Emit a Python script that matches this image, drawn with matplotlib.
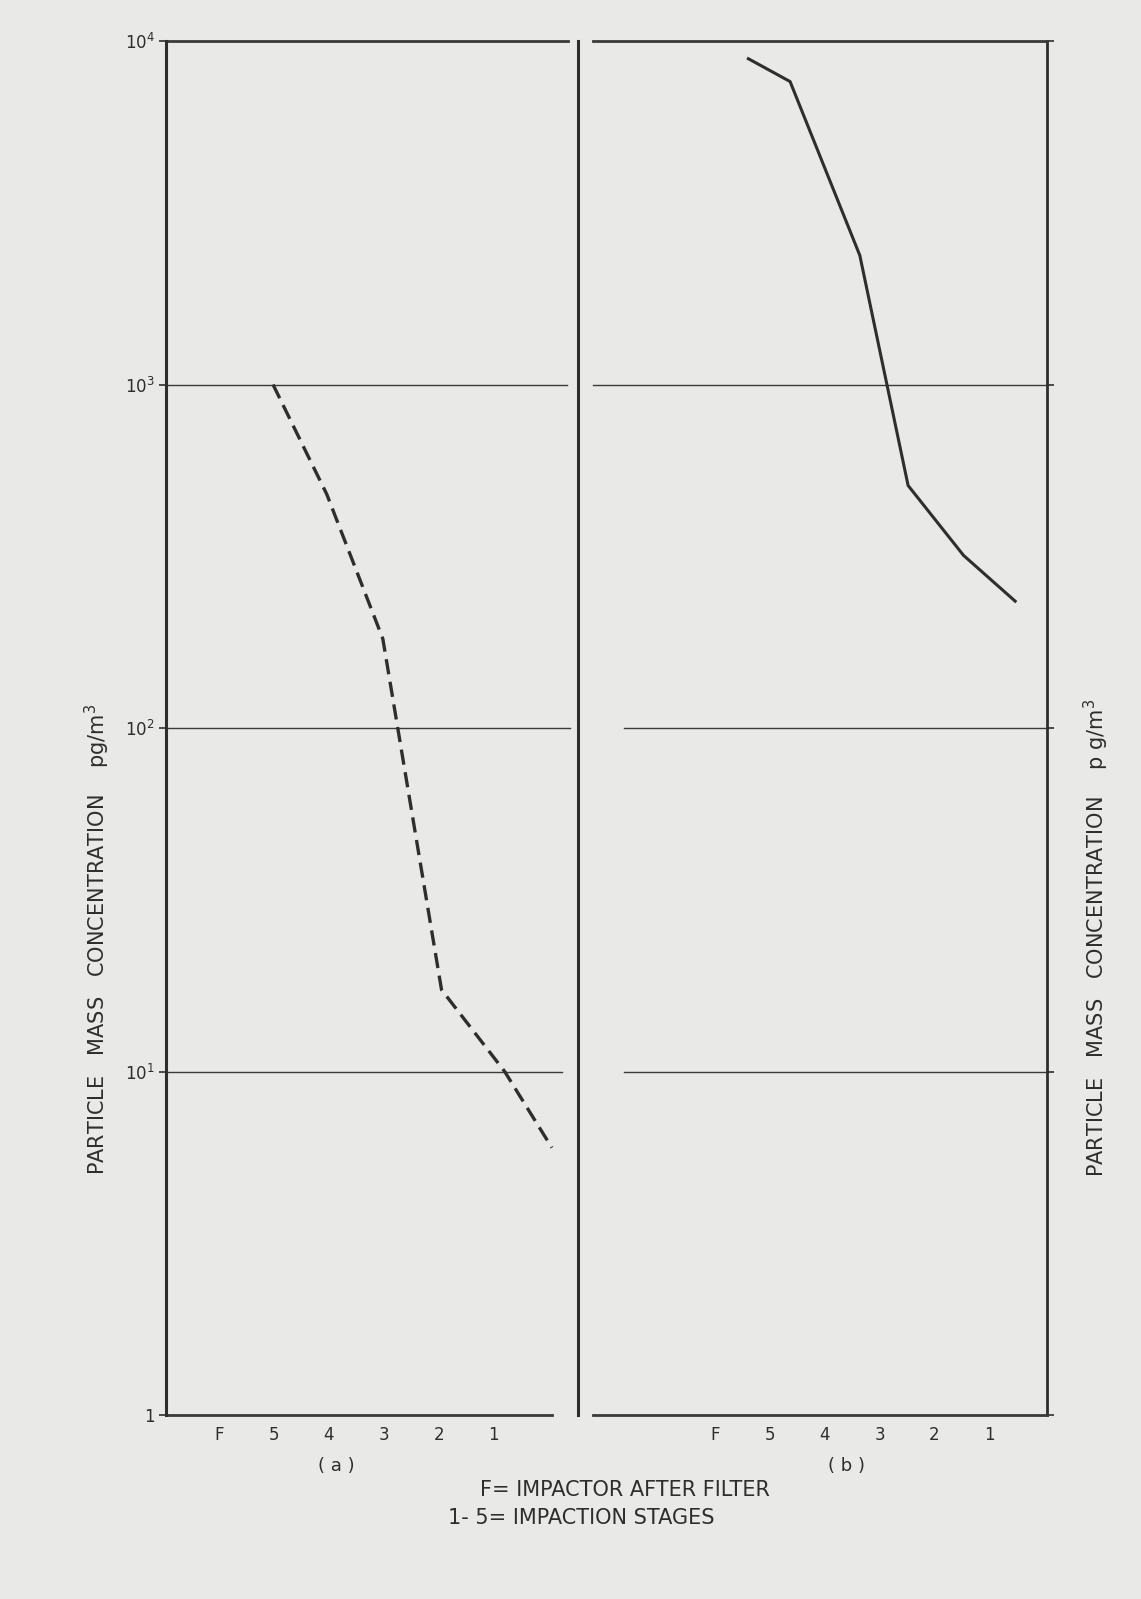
import matplotlib
matplotlib.use('Agg')
import matplotlib.pyplot as plt
from matplotlib.ticker import NullLocator

# ---------------- data ----------------
stage_labels = ['F', '5', '4', '3', '2', '1']
stage_pos = [0, 1, 2, 3, 4, 5]

# panel (a): dashed curve (x in stage units, F=0 ... 1=5)
a_x = [0.98, 1.96, 2.98, 4.05, 5.2, 6.06]
a_y = [1000, 479, 182, 17.3, 10.0, 6.0]

# panel (b): solid curve
b_x = [0.61, 1.37, 2.64, 3.52, 4.53, 5.47]
b_y = [8880, 7620, 2377, 508, 318, 234]

decades = [1, 10, 100, 1000, 10000]
decade_labels = ['1', '$10^1$', '$10^2$', '$10^3$', '$10^4$']

# ---------------- style ----------------
bg = '#e9e9e7'
ink = '#2e2e2e'
grid_ink = '#3a3a3a'
plt.rcParams['font.family'] = ['DejaVu Sans']
plt.rcParams['lines.scale_dashes'] = False
plt.rcParams['mathtext.fontset'] = 'dejavusans'

W, H = 1141, 1599
fig = plt.figure(figsize=(W / 100, H / 100), dpi=100, facecolor=bg)

top_px, bot_px = 41, 1415
axh = (bot_px - top_px) / H
axb = 1 - bot_px / H

# ---------------- panel (a) ----------------
axA = fig.add_axes([166 / W, axb, (578 - 166) / W, axh])
axA.set_facecolor('none')
axA.set_yscale('log')
axA.set_ylim(1, 1e4)
axA.set_xlim(-0.969, 6.536)
for s in ['top', 'bottom']:
    axA.spines[s].set_visible(False)
axA.spines['left'].set_linewidth(2.2)
axA.spines['right'].set_linewidth(2.2)
axA.spines['left'].set_color(ink)
axA.spines['right'].set_color(ink)
# horizontal decade lines (end before divider)
ends_a = {1: 0.937, 10: 0.961, 100: 0.98, 1000: 0.974, 10000: 0.976}
for d in decades:
    lw = 2.0 if d in (1, 10000) else 1.0
    axA.axhline(d, xmin=0, xmax=ends_a[d], color=grid_ink, lw=lw, clip_on=False)
axA.plot(a_x, a_y, color=ink, lw=2.4, dashes=(11, 5.5), solid_capstyle='butt',
         dash_capstyle='butt')
axA.set_yticks(decades, decade_labels)
axA.yaxis.set_minor_locator(NullLocator())
axA.tick_params(axis='y', direction='out', length=5, width=1.2, labelsize=12,
                pad=3, colors=ink)
axA.set_xticks(stage_pos, stage_labels)
axA.tick_params(axis='x', length=0, pad=8, labelsize=12, colors=ink)

# ---------------- panel (b) ----------------
axB = fig.add_axes([593 / W, axb, (1047 - 593) / W, axh])
axB.set_facecolor('none')
axB.set_yscale('log')
axB.set_ylim(1, 1e4)
axB.set_xlim(-2.22, 6.05)
axB.spines['left'].set_visible(False)
for s in ['top', 'bottom']:
    axB.spines[s].set_linewidth(2.0)
    axB.spines[s].set_color(grid_ink)
axB.spines['right'].set_linewidth(2.0)
axB.spines['right'].set_color(ink)
starts_b = {10: 0.068, 100: 0.068, 1000: 0.0}
for d, st in starts_b.items():
    axB.axhline(d, xmin=st, xmax=1.0, color=grid_ink, lw=1.0, clip_on=False)
axB.plot(b_x, b_y, color=ink, lw=2.2)
axB.set_yticks(decades)
axB.yaxis.set_minor_locator(NullLocator())
axB.yaxis.tick_right()
axB.tick_params(axis='y', direction='out', length=5, width=1.2, labelright=False,
                colors=ink)
axB.set_xticks(stage_pos, stage_labels)
axB.tick_params(axis='x', length=0, pad=8, labelsize=12, colors=ink)

# ---------------- text ----------------
ylab_a = 'PARTICLE   MASS   CONCENTRATION    pg/m$^3$'
ylab_b = 'PARTICLE   MASS   CONCENTRATION    p g/m$^3$'
fig.text(97 / W, 1 - 939 / H, ylab_a, rotation=90, ha='center', va='center',
         fontsize=15, color=ink)
fig.text(1096 / W, 1 - 938 / H, ylab_b, rotation=90, ha='center', va='center',
         fontsize=15, color=ink)
fig.text(336 / W, 1 - 1466 / H, '( a )', ha='center', va='center', fontsize=13, color=ink)
fig.text(846 / W, 1 - 1466 / H, '( b )', ha='center', va='center', fontsize=13, color=ink)
fig.text(625 / W, 1 - 1490 / H, 'F= IMPACTOR AFTER FILTER', ha='center', va='center',
         fontsize=15, color=ink)
fig.text(581 / W, 1 - 1518 / H, '1- 5= IMPACTION STAGES', ha='center', va='center',
         fontsize=15, color=ink)

fig.savefig('out.png', dpi=100, facecolor=bg)
